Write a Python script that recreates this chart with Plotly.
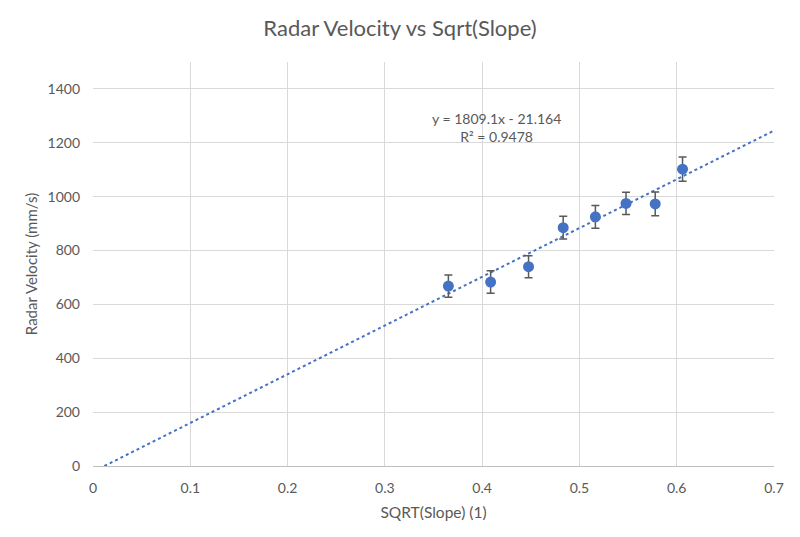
import plotly.graph_objects as go

sqrt_slope = [0.3653, 0.4087, 0.4477, 0.4833, 0.5164, 0.5479, 0.5779, 0.6060]
velocity = [668, 683, 740, 885, 925, 975, 973, 1102]
err = [41, 42, 41, 42, 42, 41, 44, 45]

slope_coef = 1809.1
intercept = -21.164
x_max = 0.7

x_ticks = [0, 0.1, 0.2, 0.3, 0.4, 0.5, 0.6, 0.7]
y_ticks = [0, 200, 400, 600, 800, 1000, 1200, 1400]

grey = "#595959"
font = "Lato"

x0 = -intercept / slope_coef
trend_x = [x0, x_max]
trend_y = [slope_coef * v + intercept for v in trend_x]

fig = go.Figure()
fig.add_trace(go.Scatter(
    x=trend_x, y=trend_y, mode="lines",
    line=dict(color="#4472C4", width=2, dash="dot"),
    hoverinfo="skip", showlegend=False))
fig.add_trace(go.Scatter(
    x=sqrt_slope, y=velocity, mode="markers",
    marker=dict(color="#4472C4", size=11),
    error_y=dict(type="data", array=err, visible=True, color=grey, thickness=1.5, width=4),
    showlegend=False))

fig.add_annotation(
    x=0.415, y=1258, xref="x", yref="y",
    text=f"y = {slope_coef}x - {abs(intercept)}<br>R² = 0.9478",
    showarrow=False, font=dict(family=font, size=14, color=grey), align="center")

fig.update_layout(
    width=800, height=537,
    margin=dict(l=93, r=26, t=62, b=71),
    paper_bgcolor="white", plot_bgcolor="white",
    title=dict(text="Radar Velocity vs Sqrt(Slope)", x=0.5, xanchor="center",
               y=0.948, yanchor="middle",
               font=dict(family=font, size=22, color=grey)),
    font=dict(family=font, color=grey),
    xaxis=dict(range=[0, x_max], tickvals=x_ticks, ticktext=[f"{t:g}" for t in x_ticks],
               showgrid=True, gridcolor="#d9d9d9", gridwidth=1,
               zeroline=False, showline=True, linecolor="#bfbfbf", linewidth=1,
               tickfont=dict(family=font, size=14, color=grey),
               title=dict(text="SQRT(Slope) (1)", font=dict(family=font, size=15.5, color=grey), standoff=12),
               ticks="", ticklabelstandoff=9),
    yaxis=dict(range=[0, 1500], tickvals=y_ticks, showgrid=True, gridcolor="#d9d9d9", gridwidth=1,
               zeroline=False, showline=False,
               tickfont=dict(family=font, size=14, color=grey),
               title=dict(text="Radar Velocity (mm/s)", font=dict(family=font, size=15, color=grey), standoff=6),
               ticks="", ticklabelstandoff=12),
)

fig.write_html("out.html")
